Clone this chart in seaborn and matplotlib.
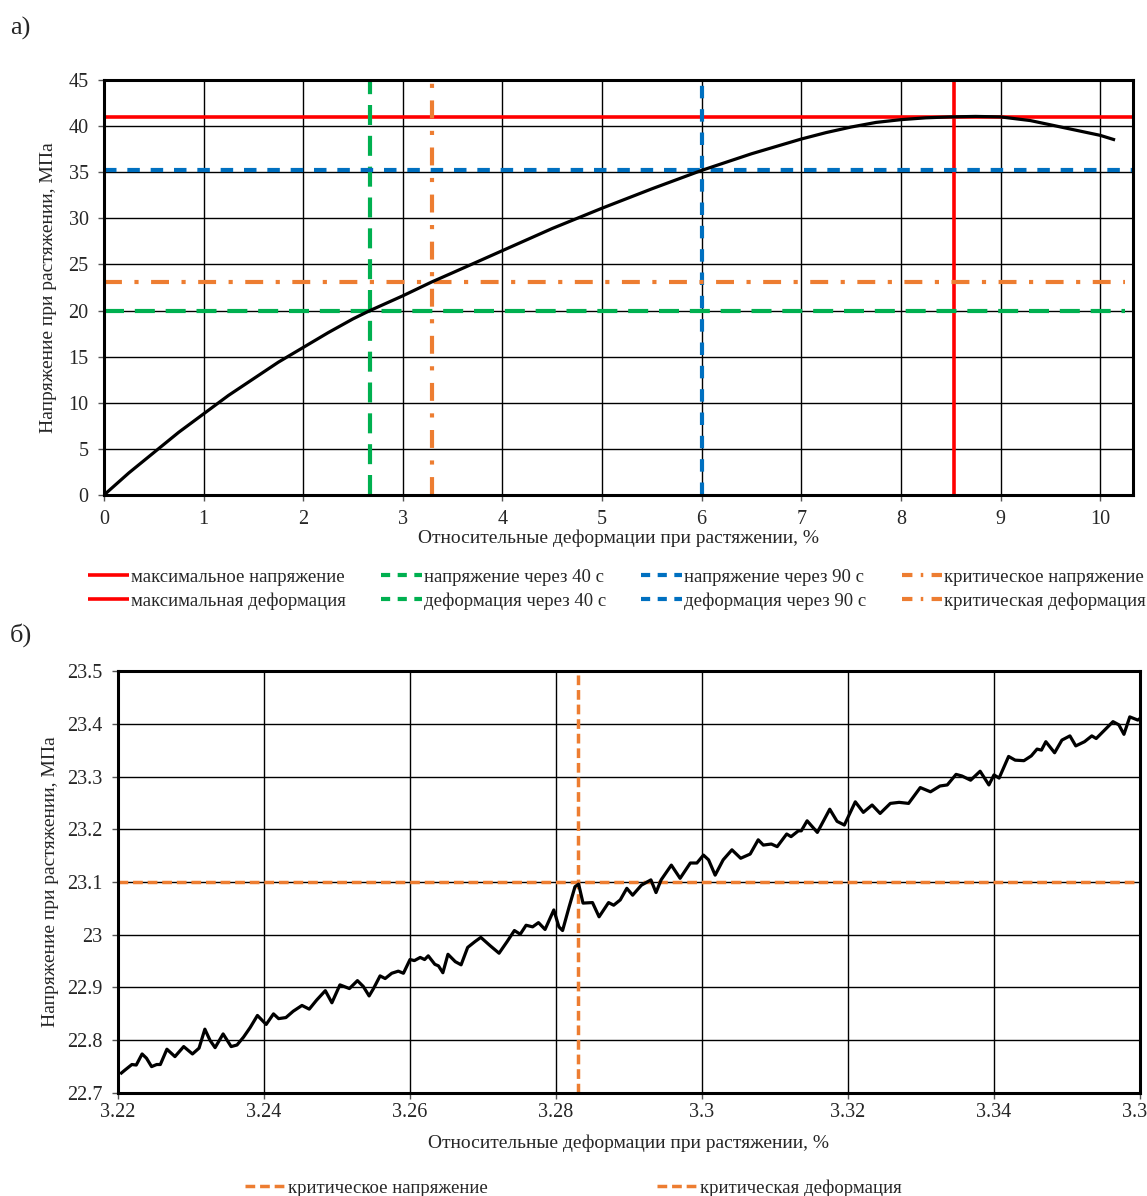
import numpy as np
import matplotlib
matplotlib.use("Agg")
import matplotlib.pyplot as plt
from matplotlib.ticker import FuncFormatter, MultipleLocator
from matplotlib.lines import Line2D
import seaborn as sns
import pandas as pd

# ---- data: panel a (full stress-strain curve) ----
strain_a = [0.0, 0.25, 0.5, 0.75, 1.0, 1.25, 1.5, 1.75, 2.0, 2.25, 2.5, 2.67, 3.0,
            3.29, 3.5, 4.0, 4.5, 5.0, 5.5, 6.0, 6.5, 7.0, 7.25, 7.5, 7.75, 8.0,
            8.25, 8.5, 8.75, 9.0, 9.3, 9.65, 10.0, 10.15]
stress_a = [0.0, 2.4, 4.6, 6.8, 8.8, 10.8, 12.6, 14.4, 16.0, 17.6, 19.1, 20.0, 21.6,
            23.1, 24.1, 26.5, 28.9, 31.1, 33.2, 35.2, 37.0, 38.6, 39.3, 39.9, 40.4, 40.7,
            40.9, 41.0, 41.05, 41.0, 40.6, 39.8, 39.0, 38.5]

# marker values: (stress, strain) for max / 40 s / 90 s / critical
max_stress, max_strain = 41.0, 8.53
s40_stress, s40_strain = 20.0, 2.67
s90_stress, s90_strain = 35.2, 6.0
crit_stress, crit_strain = 23.1, 3.29

# ---- data: panel b (zoom around the critical point) ----
strain_b = [3.2203, 3.2210, 3.2219, 3.2225, 3.2233, 3.2239, 3.2246, 3.2253, 3.2258, 3.2267,
            3.2278, 3.2290, 3.2302, 3.2311, 3.2319, 3.2326, 3.2333, 3.2344, 3.2355, 3.2363,
            3.2372, 3.2381, 3.2391, 3.2403, 3.2413, 3.2420, 3.2430, 3.2440, 3.2452, 3.2462,
            3.2472, 3.2484, 3.2493, 3.2504, 3.2517, 3.2528, 3.2536, 3.2544, 3.2550, 3.2559,
            3.2566, 3.2575, 3.2584, 3.2591, 3.2600, 3.2606, 3.2614, 3.2620, 3.2625, 3.2634,
            3.2639, 3.2645, 3.2652, 3.2662, 3.2670, 3.2679, 3.2689, 3.2697, 3.2710, 3.2722,
            3.2733, 3.2743, 3.2751, 3.2759, 3.2768, 3.2776, 3.2785, 3.2797, 3.2804, 3.2809,
            3.2818, 3.2826, 3.2831, 3.2837, 3.2850, 3.2859, 3.2872, 3.2879, 3.2888, 3.2897,
            3.2905, 3.2917, 3.2930, 3.2937, 3.2944, 3.2958, 3.2970, 3.2984, 3.2993, 3.3002,
            3.3009, 3.3018, 3.3029, 3.3041, 3.3053, 3.3066, 3.3077, 3.3084, 3.3095, 3.3103,
            3.3116, 3.3122, 3.3132, 3.3136, 3.3144, 3.3158, 3.3175, 3.3185, 3.3195, 3.3210,
            3.3221, 3.3233, 3.3244, 3.3258, 3.3270, 3.3283, 3.3299, 3.3313, 3.3326, 3.3336,
            3.3348, 3.3356, 3.3368, 3.3381, 3.3393, 3.3400, 3.3407, 3.3420, 3.3429, 3.3441,
            3.3451, 3.3459, 3.3465, 3.3471, 3.3483, 3.3493, 3.3504, 3.3512, 3.3524, 3.3534,
            3.3540, 3.3550, 3.3563, 3.3571, 3.3578, 3.3586, 3.3597, 3.3607]
stress_b = [22.736, 22.744, 22.754, 22.753, 22.774, 22.766, 22.750, 22.754, 22.754, 22.783,
            22.769, 22.788, 22.774, 22.785, 22.821, 22.800, 22.786, 22.812, 22.788, 22.791,
            22.806, 22.824, 22.847, 22.830, 22.850, 22.841, 22.843, 22.855, 22.866, 22.859,
            22.876, 22.894, 22.871, 22.905, 22.898, 22.913, 22.902, 22.884, 22.898, 22.922,
            22.917, 22.927, 22.931, 22.927, 22.953, 22.951, 22.957, 22.953, 22.960, 22.944,
            22.941, 22.928, 22.963, 22.949, 22.943, 22.976, 22.987, 22.995, 22.979, 22.965,
            22.987, 23.008, 23.001, 23.018, 23.015, 23.023, 23.010, 23.047, 23.015, 23.008,
            23.053, 23.091, 23.096, 23.060, 23.061, 23.034, 23.061, 23.056, 23.066, 23.088,
            23.075, 23.094, 23.104, 23.080, 23.104, 23.132, 23.107, 23.136, 23.136, 23.151,
            23.142, 23.113, 23.142, 23.161, 23.145, 23.153, 23.180, 23.170, 23.172, 23.167,
            23.191, 23.186, 23.197, 23.197, 23.216, 23.194, 23.238, 23.215, 23.208, 23.252,
            23.232, 23.246, 23.230, 23.249, 23.251, 23.249, 23.279, 23.271, 23.282, 23.284,
            23.304, 23.301, 23.293, 23.310, 23.284, 23.303, 23.297, 23.338, 23.331, 23.330,
            23.339, 23.352, 23.350, 23.366, 23.345, 23.369, 23.377, 23.358, 23.366, 23.377,
            23.372, 23.386, 23.404, 23.398, 23.380, 23.413, 23.407, 23.417]
crit_stress_b, crit_strain_b = 23.1, 3.283

labels_a = ["максимальное напряжение", "максимальная деформация",
            "напряжение через 40 с", "деформация через 40 с",
            "напряжение через 90 с", "деформация через 90 с",
            "критическое напряжение", "критическая деформация"]
labels_b = ["критическое напряжение", "критическая деформация"]

RED = "#FF0000"
GREEN = "#00B050"
BLUE = "#0070C0"
ORANGE = "#ED7D31"

sns.set_style("white")
plt.rcParams["font.family"] = ["Liberation Serif", "DejaVu Serif"]
plt.rcParams["lines.solid_capstyle"] = "butt"
plt.rcParams["lines.solid_joinstyle"] = "round"

fig = plt.figure(figsize=(11.47, 11.96), dpi=100)
W, H = 1147, 1196


def px_axes(l, t, r, b):
    return fig.add_axes([l / W, 1 - b / H, (r - l) / W, (b - t) / H])


def style_axes(ax, xpad):
    for s in ax.spines.values():
        s.set_color("black")
        s.set_linewidth(2.2)
    ax.grid(True, color="black", lw=1.0)
    ax.set_axisbelow(True)
    ax.tick_params(axis="both", direction="out", length=4, width=1, color="#555555",
                   labelsize=14.5, left=True, bottom=True)
    ax.tick_params(axis="x", pad=xpad)
    ax.tick_params(axis="y", pad=7)


# ---------------- panel a ----------------
ax1 = px_axes(104, 80, 1133, 495)
style_axes(ax1, 7)
ax1.set_xlim(0, 10.33)
ax1.set_ylim(0, 45)
ax1.xaxis.set_major_locator(MultipleLocator(1))
ax1.yaxis.set_major_locator(MultipleLocator(5))

green_ls = (0, (4.8, 2.6))
blue_ls = (0, (3.0, 2.6))
orange_ls = (0, (4.3, 3.0, 1.0, 3.0))

ax1.hlines(max_stress, 0, 10.33, color=RED, lw=2.6)
ax1.vlines(max_strain, 0, 45, color=RED, lw=2.6)
ax1.hlines(s40_stress, 0, 10.25, color=GREEN, lw=3, linestyles=[green_ls])
ax1.vlines(s40_strain, 0, 45, color=GREEN, lw=3, linestyles=[green_ls])
ax1.hlines(s90_stress, 0, 10.33, color=BLUE, lw=3, linestyles=[blue_ls])
ax1.vlines(s90_strain, 0, 45, color=BLUE, lw=3, linestyles=[blue_ls])
ax1.hlines(crit_stress, 0, 10.25, color=ORANGE, lw=3, linestyles=[orange_ls])
ax1.vlines(crit_strain, 0, 45, color=ORANGE, lw=3, linestyles=[orange_ls])

df_a = pd.DataFrame({"strain": strain_a, "stress": stress_a})
sns.lineplot(data=df_a, x="strain", y="stress", ax=ax1, color="black", lw=2.3,
             estimator=None, sort=False)
ax1.set_xlabel("Относительные деформации при растяжении, %", fontsize=14, labelpad=0)
ax1.set_ylabel("Напряжение при растяжении, МПа", fontsize=14, labelpad=8)

handles_a = [
    Line2D([], [], color=RED, lw=2.6),
    Line2D([], [], color=RED, lw=2.6),
    Line2D([], [], color=GREEN, lw=3, ls=(0, (2.2, 1.8))),
    Line2D([], [], color=GREEN, lw=3, ls=(0, (2.2, 1.8))),
    Line2D([], [], color=BLUE, lw=3, ls=(0, (2.2, 1.8))),
    Line2D([], [], color=BLUE, lw=3, ls=(0, (2.2, 1.8))),
    Line2D([], [], color=ORANGE, lw=3, ls=(0, (2.5, 2.0, 0.6, 2.0))),
    Line2D([], [], color=ORANGE, lw=3, ls=(0, (2.5, 2.0, 0.6, 2.0))),
]
fig.legend(handles_a, labels_a, ncol=4, loc="lower left", mode="expand",
           bbox_to_anchor=(88 / W, 1 - 610 / H, (1146 - 88) / W, 50 / H),
           frameon=False, fontsize=13.5, handlelength=2.2, handletextpad=0.08,
           labelspacing=0.35, borderaxespad=0, borderpad=0)

# ---------------- panel b ----------------
ax2 = px_axes(118, 671, 1140, 1093)
style_axes(ax2, 3)
ax2.set_xlim(3.22, 3.36)
ax2.set_ylim(22.7, 23.5)
ax2.xaxis.set_major_locator(MultipleLocator(0.02))
ax2.yaxis.set_major_locator(MultipleLocator(0.1))
fmt = FuncFormatter(lambda v, p: f"{round(v, 4):g}")
ax2.xaxis.set_major_formatter(fmt)
ax2.yaxis.set_major_formatter(fmt)

dash_b = (0, (2.8, 1.4))
ax2.axhline(crit_stress_b, color=ORANGE, lw=2.5, ls=dash_b)
ax2.axvline(crit_strain_b, color=ORANGE, lw=2.5, ls=dash_b)

df_b = pd.DataFrame({"strain": strain_b, "stress": stress_b})
sns.lineplot(data=df_b, x="strain", y="stress", ax=ax2, color="black", lw=2.3,
             estimator=None, sort=False)
ax2.set_xlabel("Относительные деформации при растяжении, %", fontsize=14, labelpad=9)
ax2.set_ylabel("Напряжение при растяжении, МПа", fontsize=14, labelpad=6)

handles_b = [Line2D([], [], color=ORANGE, lw=2.5, ls=dash_b),
             Line2D([], [], color=ORANGE, lw=2.5, ls=dash_b)]
fig.legend(handles_b, labels_b, ncol=2, loc="center left",
           bbox_to_anchor=(245 / W, 1 - 1188 / H), frameon=False, fontsize=13.5,
           handlelength=2.2, handletextpad=0.1, columnspacing=9.0,
           borderaxespad=0, borderpad=0)

fig.text(10 / W, 1 - 28 / H, "а)", fontsize=19, va="center", ha="left")
fig.text(10 / W, 1 - 635 / H, "б)", fontsize=19, va="center", ha="left")

fig.savefig("out.png", dpi=100)
